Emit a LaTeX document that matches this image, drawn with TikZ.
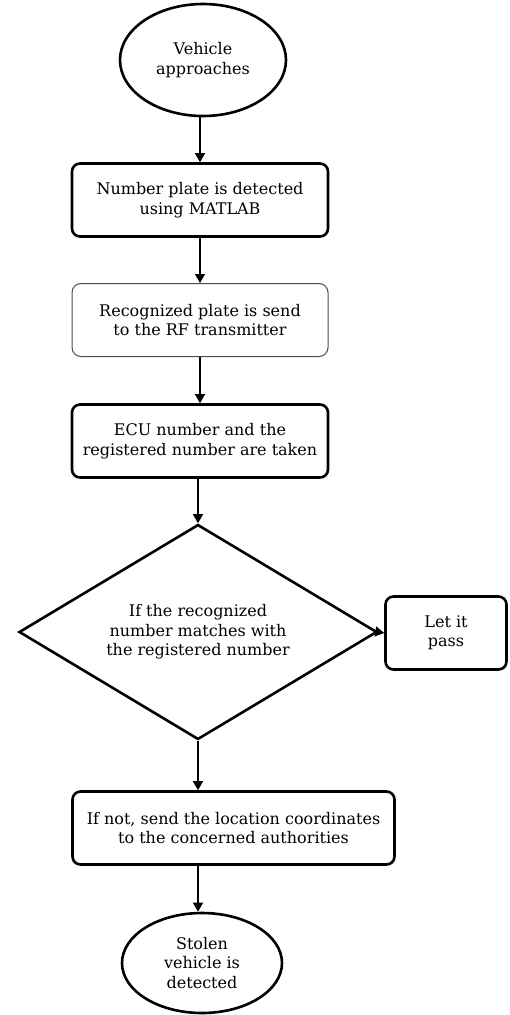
\documentclass[tikz,border=0pt]{standalone}
\usepackage{fontspec}
\setmainfont{DejaVu Serif}
\usetikzlibrary{shapes.geometric,arrows.meta}
\begin{document}
\begin{tikzpicture}[x=1pt,y=-1pt,
  every node/.style={font=\fontsize{16}{19.5}\selectfont, align=center, inner sep=0pt},
  thickbox/.style={draw, line width=2.6pt, rounded corners=8pt, minimum width=256pt, minimum height=73pt},
  thinbox/.style={draw=black!70, line width=1pt, rounded corners=9pt, minimum width=256pt, minimum height=73pt},
  oval/.style={draw, ellipse, line width=2.6pt},
  decision/.style={draw, diamond, aspect=1.66, line width=2.6pt, minimum width=358pt, minimum height=215pt},
  arr/.style={draw, line width=1.3pt, -{Triangle[length=9pt,width=10pt]}}]
\useasboundingbox (0,0) rectangle (510,1015);
\node[oval, minimum width=166pt, minimum height=112pt] (start) at (203,60) {Vehicle\\approaches};
\node[thickbox] (b1) at (200,200) {Number plate is detected\\using MATLAB};
\node[thinbox] (b2) at (200,320) {Recognized plate is send\\to the RF transmitter};
\node[thickbox] (b3) at (200,441) {ECU number and the\\registered number are taken};
\node[decision] (dec) at (198,632) {If the recognized\\number matches with\\the registered number};
\node[thickbox, minimum width=121pt, minimum height=73pt] (pass) at (446,633) {Let it\\pass};
\node[thickbox, minimum width=322pt] (b4) at (233.5,828) {If not, send the location coordinates\\to the concerned authorities};
\node[oval, minimum width=160pt, minimum height=100pt] (stop) at (202,963) {Stolen\\vehicle is\\detected};
\draw[arr] (start.south -| b1.north) -- (b1.north);
\draw[arr] (b1.south) -- (b2.north);
\draw[arr] (b2.south) -- (b3.north);
\draw[arr] (b3.south -| dec.north) -- (dec.north);
\draw[arr] (dec.east) -- (pass.west);
\draw[arr] (dec.south) -- (b4.north -| dec.south);
\draw[arr] (b4.south -| dec.south) -- (stop.north -| dec.south);
\end{tikzpicture}
\end{document}
